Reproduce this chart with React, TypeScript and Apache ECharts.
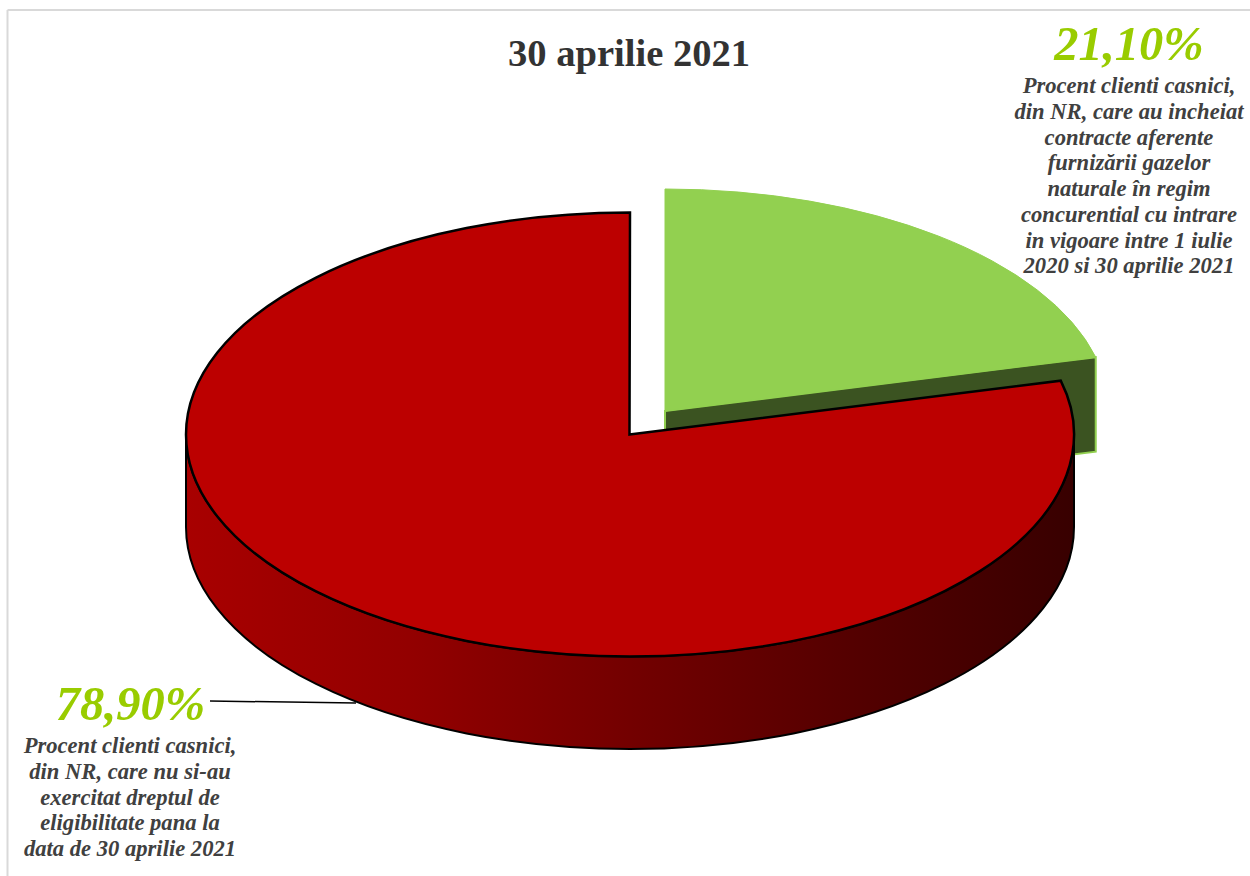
import React, { useEffect, useRef } from "react";
import * as echarts from "echarts";

const TITLE = "30 aprilie 2021";
const categories = ["Cu contracte in regim concurential", "Fara eligibilitate exercitata"];
const values = [21.1, 78.9];
const descriptionGreen = [
  "Procent clienti casnici,",
  "din NR, care au incheiat",
  "contracte aferente",
  "furnizării gazelor",
  "naturale în regim",
  "concurential cu intrare",
  "in vigoare intre 1 iulie",
  "2020 si 30 aprilie 2021",
];
const descriptionRed = [
  "Procent clienti casnici,",
  "din NR, care nu si-au",
  "exercitat dreptul de",
  "eligibilitate pana la",
  "data de 30 aprilie 2021",
];

const CX = 630;
const CY = 434.5;
const RX = 444;
const RY = 222;
const DEPTH = 92.5;
const SERIF = '"Liberation Serif", serif';

const pt = (cx: number, cy: number, deg: number) => {
  const t = (deg * Math.PI) / 180;
  return [cx + RX * Math.sin(t), cy - RY * Math.cos(t)];
};

const arcTo = (cx: number, cy: number, deg: number, large: number, sweep: number) => {
  const [x, y] = pt(cx, cy, deg);
  return `A ${RX} ${RY} 0 ${large} ${sweep} ${x} ${y}`;
};

const fmt = (v: number) => v.toFixed(2).replace(".", ",") + "%";

function renderSlice(params: any, api: any) {
  const total = values.reduce((a, b) => a + b, 0);
  const idx = params.dataIndex;
  const before = values.slice(0, idx).reduce((a, b) => a + b, 0);
  const a0 = (before / total) * 360;
  const a1 = ((before + api.value(0)) / total) * 360;
  const large = a1 - a0 > 180 ? 1 : 0;

  if (idx === 0) {
    const cx = CX + 35;
    const cy = CY - 23.5;
    const [ax, ay] = [cx, cy];
    const [ex, ey] = pt(cx, cy, a1);
    const [sx, sy] = pt(cx, cy, a0);
    return {
      type: "group",
      children: [
        {
          type: "path",
          shape: {
            pathData: `M ${ax} ${ay} L ${ex} ${ey} L ${ex} ${ey + DEPTH + 2} L ${ax} ${ay + DEPTH + 2} Z`,
          },
          style: { fill: "#3b5321", stroke: "#92d050", lineWidth: 2 },
        },
        {
          type: "path",
          shape: {
            pathData: `M ${ax} ${ay} L ${sx} ${sy} ${arcTo(cx, cy, a1, large, 1)} Z`,
          },
          style: { fill: "#92d050", stroke: "#92d050", lineWidth: 1 },
        },
      ],
    };
  }

  const [sx, sy] = pt(CX, CY, a0);
  const [lx, ly] = pt(CX, CY, 270);
  const [rx, ry] = pt(CX, CY, 90);
  return {
    type: "group",
    children: [
      {
        type: "path",
        shape: {
          pathData:
            `M ${rx} ${ry} ${arcTo(CX, CY, 270, 0, 1)} L ${lx} ${ly + DEPTH} ` +
            `${arcTo(CX, CY + DEPTH, 90, 0, 0)} Z`,
        },
        style: {
          fill: new echarts.graphic.LinearGradient(0, 0, 1, 0, [
            { offset: 0, color: "#a80000" },
            { offset: 0.25, color: "#930000" },
            { offset: 0.5, color: "#730000" },
            { offset: 0.75, color: "#540000" },
            { offset: 1, color: "#380000" },
          ]),
          stroke: "#000000",
          lineWidth: 2,
        },
      },
      {
        type: "path",
        shape: {
          pathData: `M ${CX - 0.5} ${CY} L ${sx} ${sy} ${arcTo(CX, CY, 180, 0, 1)} ${arcTo(CX, CY, a1, 0, 1)} Z`,
        },
        style: { fill: "#bc0000", stroke: "#000000", lineWidth: 2.5 },
      },
    ],
  };
}

const textBlock = (text: string, x: number, y: number) => ({
  type: "text",
  x,
  y,
  silent: true,
  style: {
    text,
    font: `italic bold 22.6px ${SERIF}`,
    fill: "#404040",
    textAlign: "center",
    textVerticalAlign: "top",
    lineHeight: 25.7,
  },
});

const percent = (text: string, x: number, y: number) => ({
  type: "text",
  x,
  y,
  silent: true,
  style: {
    text,
    font: `italic bold 48.5px ${SERIF}`,
    fill: "#99cc00",
    textAlign: "center",
    textVerticalAlign: "top",
  },
});

export default function App() {
  const ref = useRef<HTMLDivElement>(null);
  useEffect(() => {
    const chart = echarts.init(ref.current!, undefined, { renderer: "svg" });
    chart.setOption({
      animation: false,
      backgroundColor: "#ffffff",
      title: {
        text: TITLE,
        left: 629,
        top: 33,
        padding: 0,
        textAlign: "center",
        textStyle: {
          fontFamily: SERIF,
          fontWeight: "bold",
          fontSize: 38.6,
          color: "#333333",
        },
      },
      series: [
        {
          type: "custom",
          coordinateSystem: "none",
          silent: true,
          renderItem: renderSlice,
          data: categories.map((name, i) => ({ name, value: [values[i]] })),
        },
      ],
      graphic: [
        { type: "line", silent: true, shape: { x1: 7.5, y1: 10, x2: 1250, y2: 10 }, style: { stroke: "#d9d9d9", lineWidth: 2 } },
        { type: "line", silent: true, shape: { x1: 7.5, y1: 10, x2: 7.5, y2: 876 }, style: { stroke: "#d9d9d9", lineWidth: 2 } },
        { type: "line", silent: true, shape: { x1: 210, y1: 701, x2: 356, y2: 703 }, style: { stroke: "#000000", lineWidth: 1.5 } },
        percent(fmt(values[0]), 1129, 19),
        textBlock(descriptionGreen.join("\n"), 1129, 73),
        percent(fmt(values[1]), 130.5, 679),
        textBlock(descriptionRed.join("\n"), 130, 733),
      ],
    });
    return () => chart.dispose();
  }, []);
  return <div ref={ref} style={{ position: "fixed", left: 0, top: 0, width: 1250, height: 876 }} />;
}
